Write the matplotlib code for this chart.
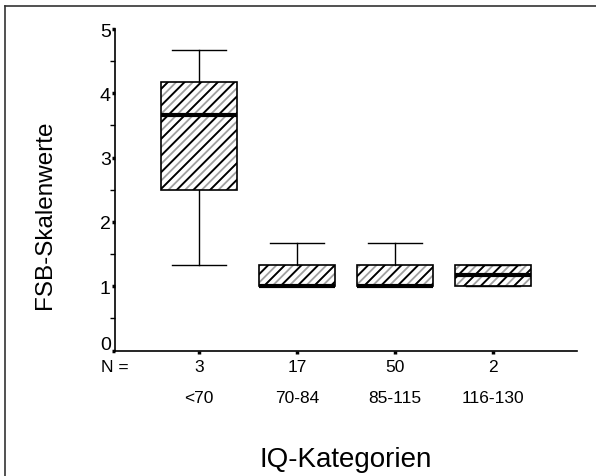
import matplotlib
matplotlib.use("Agg")
import matplotlib.pyplot as plt
from matplotlib.patches import Rectangle
from matplotlib.lines import Line2D
from matplotlib.transforms import ScaledTranslation

plt.rcParams['font.family'] = ['Liberation Sans', 'DejaVu Sans']
plt.rcParams['hatch.linewidth'] = 1.3

categories = ['<70', '70-84', '85-115', '116-130']
counts = ['3', '17', '50', '2']
whislo = [1.33, 1.0, 1.0, 1.0]
q1 = [2.5, 1.0, 1.0, 1.0]
med = [3.67, 1.0, 1.0, 1.17]
q3 = [4.17, 1.33, 1.33, 1.33]
whishi = [4.67, 1.67, 1.67, 1.33]
positions = [1, 2, 3, 4]
box_w = 0.78

fig = plt.figure(figsize=(5.96, 4.77), dpi=100)
ax = fig.add_axes([0.193, 0.2631, 0.775, 0.674])

stats = []
for i in range(len(categories)):
    stats.append(dict(whislo=whislo[i], q1=q1[i], med=med[i], q3=q3[i],
                      whishi=whishi[i], fliers=[]))

# gray hatch layer underneath the black one
for p, lo, hi in zip(positions, q1, q3):
    ax.add_patch(Rectangle((p - box_w / 2, lo), box_w, hi - lo, facecolor='white',
                           edgecolor='#a0a0a0', lw=0, hatch='////', zorder=1.5))

ax.bxp(stats, positions=positions, widths=box_w, patch_artist=True,
       showfliers=False, capwidths=0.55,
       boxprops=dict(facecolor='none', edgecolor='black', lw=1.2, hatch='//', zorder=2),
       medianprops=dict(color='black', lw=3, zorder=3),
       whiskerprops=dict(color='black', lw=1),
       capprops=dict(color='black', lw=1))

ax.set_xlim(0.143, 4.857)
ax.set_ylim(0, 5)
ax.spines['top'].set_visible(False)
ax.spines['right'].set_visible(False)
ax.spines['left'].set_linewidth(1.2)
ax.spines['bottom'].set_linewidth(1.2)

ax.set_yticks([0, 1, 2, 3, 4, 5])
ax.set_yticks([0.5, 1.5, 2.5, 3.5, 4.5], minor=True)
ax.tick_params(axis='y', which='major', length=2, width=2.5, pad=1, labelsize=14)
ax.tick_params(axis='y', which='minor', length=3.5, width=1)
# lift the "0" label a little, as in the original
zero = ax.get_yticklabels()[0]
zero.set_transform(zero.get_transform() + ScaledTranslation(0, 8 / 100, fig.dpi_scale_trans))
ax.set_xticks(positions)
ax.set_xticklabels([])
ax.tick_params(axis='x', which='major', length=2, width=2.5)

for p, n, c in zip(positions, counts, categories):
    ax.text(p, -0.25, n, ha='center', va='center', fontsize=12.5, clip_on=False)
    ax.text(p, -0.73, c, ha='center', va='center', fontsize=12.5, clip_on=False)
ax.text(0.143, -0.25, 'N =', ha='center', va='center', fontsize=12.5, clip_on=False)

fig.text(346 / 596, 1 - 460 / 477, 'IQ-Kategorien', ha='center', va='center', fontsize=20)
fig.text(45 / 596, 1 - 215 / 477, 'FSB-Skalenwerte', ha='center', va='center',
         rotation=90, fontsize=17.5)

# outer frame (left and top only)
fig.add_artist(Line2D([5 / 596, 5 / 596], [0, 1 - 7 / 477], transform=fig.transFigure,
                      color='#333333', lw=1.2))
fig.add_artist(Line2D([5 / 596, 1], [1 - 7 / 477, 1 - 7 / 477], transform=fig.transFigure,
                      color='#333333', lw=1.2))

fig.savefig('out.png', dpi=100)
